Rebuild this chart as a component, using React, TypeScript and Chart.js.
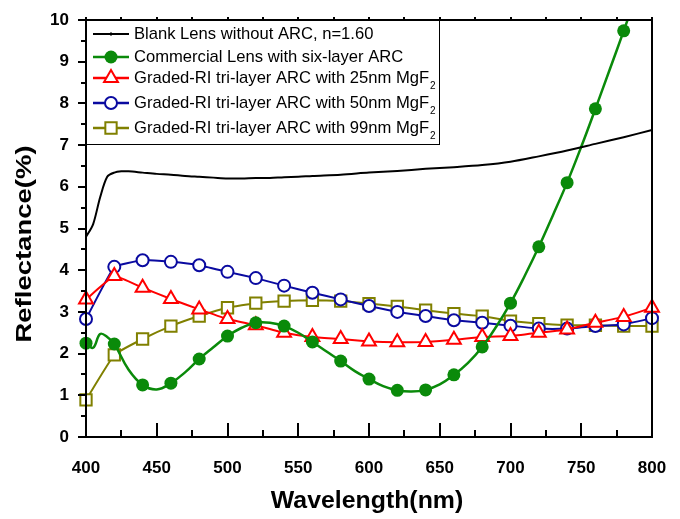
import React, { useEffect, useRef } from 'react';
import { Chart, registerables } from 'chart.js';

Chart.register(...registerables);

// ---- Data ----
const markerWl = [400, 420, 440, 460, 480, 500, 520, 540, 560, 580, 600, 620, 640, 660, 680, 700, 720, 740, 760, 780, 800];
const blue50R = [2.83, 4.08, 4.24, 4.2, 4.12, 3.96, 3.81, 3.63, 3.46, 3.3, 3.14, 3.0, 2.9, 2.8, 2.74, 2.67, 2.6, 2.6, 2.66, 2.7, 2.85];
const red25R = [3.3, 3.86, 3.58, 3.31, 3.06, 2.83, 2.68, 2.5, 2.4, 2.35, 2.29, 2.27, 2.28, 2.33, 2.4, 2.42, 2.5, 2.58, 2.74, 2.88, 3.1];
const olive99R = [0.89, 1.97, 2.35, 2.66, 2.9, 3.1, 3.21, 3.26, 3.28, 3.26, 3.2, 3.13, 3.04, 2.96, 2.9, 2.78, 2.72, 2.68, 2.68, 2.66, 2.66];

const greenWl = [400, 405, 410, 415, 420, 430, 440, 450, 460, 470, 480, 490, 500, 510, 520, 530, 540, 550, 560, 570, 580, 590, 600, 610, 620, 630, 640, 650, 660, 670, 680, 690, 700, 710, 720, 730, 740, 750, 760, 770, 780, 790];
const greenR = [2.25, 2.14, 2.47, 2.4, 2.23, 1.62, 1.25, 1.14, 1.29, 1.55, 1.87, 2.15, 2.42, 2.62, 2.74, 2.74, 2.66, 2.5, 2.28, 2.05, 1.82, 1.58, 1.39, 1.22, 1.12, 1.09, 1.13, 1.26, 1.49, 1.78, 2.16, 2.65, 3.21, 3.86, 4.56, 5.32, 6.1, 6.96, 7.87, 8.8, 9.74, 10.7];

const blackWl = [400, 405, 410, 415, 420, 425, 430, 440, 450, 460, 470, 480, 490, 500, 510, 520, 530, 540, 550, 560, 580, 600, 620, 640, 660, 680, 700, 720, 740, 760, 780, 800];
const blackR = [4.8, 5.1, 5.75, 6.24, 6.34, 6.37, 6.37, 6.34, 6.31, 6.29, 6.26, 6.24, 6.22, 6.2, 6.2, 6.21, 6.21, 6.23, 6.24, 6.26, 6.29, 6.34, 6.38, 6.43, 6.47, 6.52, 6.6, 6.73, 6.87, 7.03, 7.19, 7.36];

const legendLabels = [
  'Blank Lens without ARC, n=1.60',
  'Commercial Lens with six-layer ARC',
  'Graded-RI tri-layer ARC with 25nm MgF',
  'Graded-RI tri-layer ARC with 50nm MgF',
  'Graded-RI tri-layer ARC with 99nm MgF',
];
const legendSub = ['', '', '2', '2', '2'];

const xTitle = 'Wavelength(nm)';
const yTitle = 'Reflectance(%)';
const xMin = 400, xMax = 800, xMajor = 50, xMinor = 25;
const yMin = 0, yMax = 10, yMajor = 1, yMinor = 0.5;

const COLORS = ['#000000', '#0a8a0a', '#ff0000', '#0a0aa0', '#808000'];
const STYLES = ['none', 'circleFill', 'triangle', 'circle', 'rect'];

function drawMarker(ctx: CanvasRenderingContext2D, style: string, x: number, y: number, color: string) {
  ctx.save();
  ctx.lineWidth = 2;
  ctx.strokeStyle = color;
  ctx.fillStyle = '#ffffff';
  ctx.beginPath();
  if (style === 'circleFill') {
    ctx.fillStyle = color;
    ctx.arc(x, y, 6.5, 0, Math.PI * 2);
    ctx.fill();
  } else if (style === 'circle') {
    ctx.arc(x, y, 6, 0, Math.PI * 2);
    ctx.fill();
    ctx.stroke();
  } else if (style === 'triangle') {
    const r = 8;
    const s = Math.sin(Math.PI * 2 / 3) * r;
    ctx.moveTo(x, y - r);
    ctx.lineTo(x + s, y + r / 2);
    ctx.lineTo(x - s, y + r / 2);
    ctx.closePath();
    ctx.fill();
    ctx.stroke();
  } else if (style === 'rect') {
    const h = 8 * Math.SQRT1_2;
    ctx.rect(x - h, y - h, 2 * h, 2 * h);
    ctx.fill();
    ctx.stroke();
  } else {
    ctx.lineWidth = 1;
    ctx.moveTo(x, y - 2);
    ctx.lineTo(x, y + 2);
    ctx.stroke();
  }
  ctx.restore();
}

const decorPlugin = {
  id: 'decor',
  afterDatasetsDraw(chart: any) {
    const { ctx, chartArea: a, scales } = chart;
    const xs = scales.x, ys = scales.y;
    ctx.save();

    // legend box
    const lx = a.left, ly = a.top, lw = 353, lh = 124;
    ctx.fillStyle = '#ffffff';
    ctx.fillRect(lx, ly, lw, lh);
    ctx.strokeStyle = '#000';
    ctx.lineWidth = 1;
    ctx.strokeRect(lx + 0.5, ly + 0.5, lw, lh);
    const rowY = [14, 37, 58, 83, 108];
    for (let i = 0; i < legendLabels.length; i++) {
      const yy = ly + rowY[i];
      ctx.strokeStyle = COLORS[i];
      ctx.lineWidth = i === 0 ? 2 : 2.5;
      ctx.beginPath();
      ctx.moveTo(lx + 7, yy);
      ctx.lineTo(lx + 43, yy);
      ctx.stroke();
      drawMarker(ctx, STYLES[i], lx + 25, yy, COLORS[i]);
      ctx.fillStyle = '#000';
      ctx.font = '16.6px "Liberation Sans", Arial, sans-serif';
      ctx.textBaseline = 'middle';
      ctx.textAlign = 'left';
      ctx.fillText(legendLabels[i], lx + 48, yy);
      if (legendSub[i]) {
        const w = ctx.measureText(legendLabels[i]).width;
        ctx.font = '10px "Liberation Sans", Arial, sans-serif';
        ctx.fillText(legendSub[i], lx + 48 + w + 1, yy + 8);
      }
    }

    // frame
    ctx.strokeStyle = '#000';
    ctx.lineWidth = 2;
    ctx.strokeRect(a.left, a.top, a.right - a.left, a.bottom - a.top);

    // x ticks (inward bottom, small outward top)
    for (let v = xMin; v <= xMax; v += xMinor) {
      const px = Math.round(xs.getPixelForValue(v));
      const major = v % xMajor === 0;
      ctx.beginPath();
      ctx.moveTo(px, a.bottom);
      ctx.lineTo(px, a.bottom - (major ? 14 : 7));
      ctx.stroke();
      ctx.beginPath();
      ctx.moveTo(px, a.top);
      ctx.lineTo(px, a.top - 3);
      ctx.stroke();
    }
    // y ticks (outward left)
    for (let v = yMin; v <= yMax + 1e-9; v += yMinor) {
      const py = Math.round(ys.getPixelForValue(v));
      const major = Math.abs(v - Math.round(v)) < 1e-6;
      ctx.beginPath();
      ctx.moveTo(a.left, py);
      ctx.lineTo(a.left - (major ? 8 : 5), py);
      ctx.stroke();
    }

    // axis titles
    ctx.fillStyle = '#000';
    ctx.font = 'bold 22px "Liberation Sans", Arial, sans-serif';
    ctx.textAlign = 'center';
    ctx.textBaseline = 'middle';
    ctx.save();
    ctx.translate((a.left + a.right) / 2 - 2, 502);
    ctx.scale(1.13, 1.05);
    ctx.fillText(xTitle, 0, 0);
    ctx.restore();
    ctx.save();
    ctx.translate(25, 244);
    ctx.rotate(-Math.PI / 2);
    ctx.scale(1.25, 1);
    ctx.fillText(yTitle, 0, 0);
    ctx.restore();

    ctx.restore();
  },
};

const ptRadiusGreen = (c: any) => {
  const w = greenWl[c.dataIndex];
  return w % 20 === 0 ? 6.5 : 0;
};

export default function App() {
  const ref = useRef<HTMLCanvasElement | null>(null);
  useEffect(() => {
    if (!ref.current) return;
    const clip = { left: 12, right: 12, top: 0, bottom: 12 };
    const chart = new Chart(ref.current, {
      type: 'line',
      data: {
        datasets: [
          {
            label: legendLabels[0],
            data: blackWl.map((w, i) => ({ x: w, y: blackR[i] })),
            borderColor: COLORS[0],
            borderWidth: 2,
            pointRadius: 0,
            tension: 0.3,
            clip,
          },
          {
            label: legendLabels[1],
            data: greenWl.map((w, i) => ({ x: w, y: greenR[i] })),
            borderColor: COLORS[1],
            backgroundColor: COLORS[1],
            borderWidth: 2.5,
            pointRadius: ptRadiusGreen,
            pointBorderWidth: 0,
            pointStyle: 'circle',
            tension: 0.4,
            clip,
          },
          {
            label: legendLabels[2],
            data: markerWl.map((w, i) => ({ x: w, y: red25R[i] })),
            borderColor: COLORS[2],
            backgroundColor: '#ffffff',
            borderWidth: 2,
            pointRadius: 8,
            pointBorderWidth: 2,
            pointStyle: 'triangle',
            tension: 0.1,
            clip,
          },
          {
            label: legendLabels[3],
            data: markerWl.map((w, i) => ({ x: w, y: blue50R[i] })),
            borderColor: COLORS[3],
            backgroundColor: '#ffffff',
            borderWidth: 2,
            pointRadius: 6,
            pointBorderWidth: 2,
            pointStyle: 'circle',
            tension: 0.1,
            clip,
          },
          {
            label: legendLabels[4],
            data: markerWl.map((w, i) => ({ x: w, y: olive99R[i] })),
            borderColor: COLORS[4],
            backgroundColor: '#ffffff',
            borderWidth: 2,
            pointRadius: 8,
            pointBorderWidth: 2,
            pointStyle: 'rect',
            tension: 0.1,
            clip,
          },
        ],
      },
      options: {
        responsive: false,
        animation: false,
        events: [],
        layout: { padding: { left: 0, right: 28, top: 20, bottom: 0 } },
        plugins: { legend: { display: false }, tooltip: { enabled: false } },
        scales: {
          x: {
            type: 'linear',
            min: xMin,
            max: xMax,
            grid: { display: false },
            border: { display: false },
            ticks: {
              stepSize: xMajor,
              color: '#000',
              padding: 13,
              font: { family: '"Liberation Sans", Arial, sans-serif', size: 17, weight: 'bold' },
            },
            afterFit: (s: any) => { s.height = 82; },
          },
          y: {
            type: 'linear',
            min: yMin,
            max: yMax,
            grid: { display: false },
            border: { display: false },
            ticks: {
              stepSize: yMajor,
              color: '#000',
              padding: 9,
              font: { family: '"Liberation Sans", Arial, sans-serif', size: 17, weight: 'bold' },
            },
            afterFit: (s: any) => { s.width = 86; },
          },
        },
      },
      plugins: [decorPlugin],
    } as any);
    return () => chart.destroy();
  }, []);
  return (
    <div style={{ position: 'absolute', left: 0, top: 0, width: 680, height: 519, background: '#fff' }}>
      <canvas ref={ref} width={680} height={519} style={{ display: 'block' }} />
    </div>
  );
}
